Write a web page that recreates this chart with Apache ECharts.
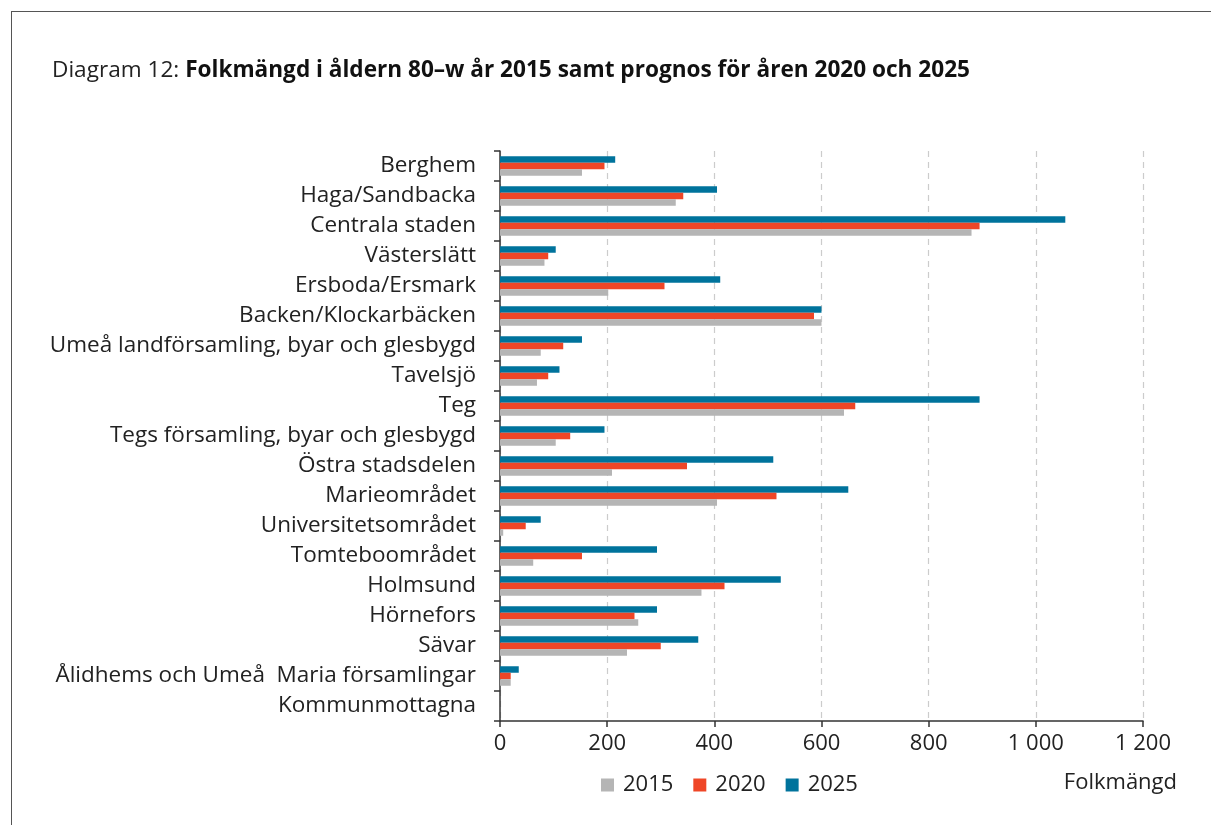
<!DOCTYPE html>
<html><head><meta charset="utf-8">
<script src="https://cdn.jsdelivr.net/npm/echarts@6/dist/echarts.min.js"></script>
<style>
html,body{margin:0;padding:0;background:#fff;}
#frame{position:absolute;left:11px;top:11px;width:1220px;height:830px;border-top:1px solid #555;border-left:1px solid #555;}
#c{position:absolute;left:0;top:0;width:1211px;height:825px;}
</style></head>
<body>
<div id="frame"></div>
<div id="c"></div>
<script>
const categories = ["Berghem","Haga/Sandbacka","Centrala staden","Västerslätt","Ersboda/Ersmark","Backen/Klockarbäcken","Umeå landförsamling, byar och glesbygd","Tavelsjö","Teg","Tegs församling, byar och glesbygd","Östra stadsdelen","Marieområdet","Universitetsområdet","Tomteboområdet","Holmsund","Hörnefors","Sävar","Ålidhems och Umeå  Maria församlingar","Kommunmottagna"];
const v2015 = [153,328,880,83,202,600,76,69,642,104,209,405,6,62,376,258,237,20,0];
const v2020 = [195,342,895,90,307,586,118,90,663,131,349,516,48,153,419,251,300,20,0];
const v2025 = [215,405,1055,104,411,600,153,111,895,195,510,650,76,293,524,293,370,35,0];
const xTicks = [0,200,400,600,800,1000,1200];

const font = '"Open Sans", sans-serif';
const chart = echarts.init(document.getElementById('c'));
const fmt = v => v >= 1000 ? String(v).replace(/(\d)(\d{3})$/, '$1 $2') : String(v);
chart.setOption({
  animation:false,
  textStyle:{fontFamily:font},
  title:{
    left:47, top:54,
    text:'{n|Diagram 12: }{b|Folkmängd i åldern 80–w år 2015 samt prognos för åren 2020 och 2025}',
    textStyle:{rich:{
      n:{fontFamily:font,fontSize:22.6,color:'#222',fontWeight:'normal'},
      b:{fontFamily:font,fontSize:22.6,color:'#111',fontWeight:'bold'}
    }}
  },
  legend:{
    data:['2015','2020','2025'],
    left:596, top:769,
    itemWidth:13, itemHeight:13, itemGap:20,
    icon:'rect',
    textStyle:{fontFamily:font,fontSize:22,color:'#222',padding:[0,0,0,4]}
  },
  grid:{left:500, top:151, width:643, height:570, containLabel:false},
  xAxis:{
    type:'value', min:0, max:1200, interval:200,
    axisLine:{show:true,lineStyle:{color:'#333',width:1.5}},
    axisTick:{show:true,length:6,lineStyle:{color:'#333',width:1.5}},
    axisLabel:{fontFamily:font,fontSize:22,color:'#222',margin:12,formatter:fmt},
    splitLine:{show:true,lineStyle:{color:'#ccc',type:[6,5],width:1.2}}
  },
  yAxis:{
    type:'category', data:categories, inverse:true,
    axisLine:{show:true,lineStyle:{color:'#333',width:1.5}},
    axisTick:{show:true,length:6,lineStyle:{color:'#333',width:1.5}},
    axisLabel:{fontFamily:font,fontSize:22.5,color:'#222',margin:24,padding:[3,0,0,0]}
  },
  graphic:[{type:'text',right:34,top:772,style:{text:'Folkmängd',font:'22px '+font,fill:'#222'}}],
  series:[
    {name:'2025',type:'bar',data:v2025,itemStyle:{color:'#00739c'},barGap:'0%',barCategoryGap:'35%'},
    {name:'2020',type:'bar',data:v2020,itemStyle:{color:'#ef4627'},barGap:'0%',barCategoryGap:'35%'},
    {name:'2015',type:'bar',data:v2015,itemStyle:{color:'#b5b5b5'},barGap:'0%',barCategoryGap:'35%'}
  ]
});
</script>
</body></html>
